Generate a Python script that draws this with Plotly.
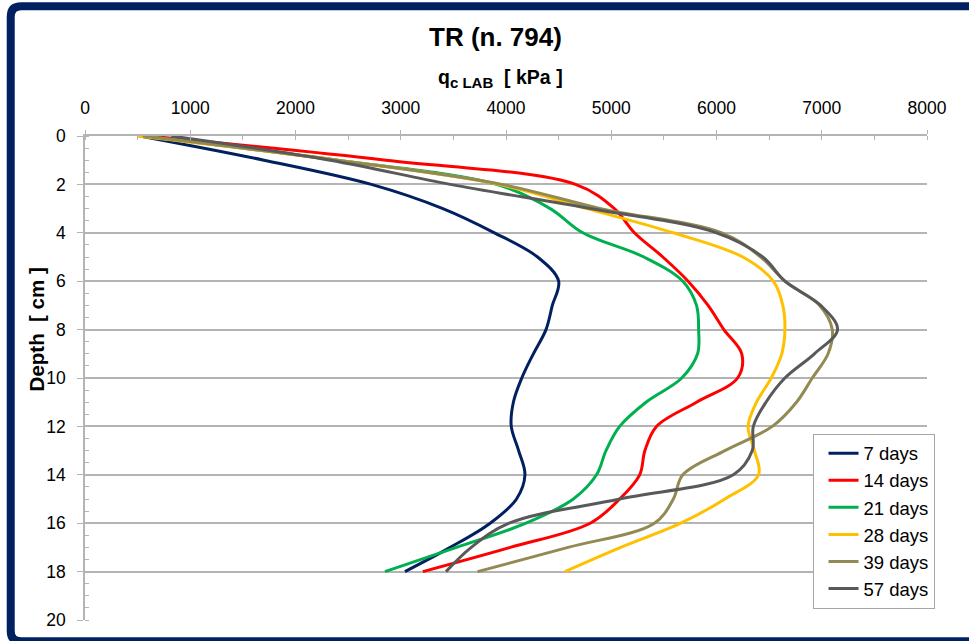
import plotly.graph_objects as go

# ---- data ----
depth = [0, 1, 2, 3, 4, 5, 6, 7, 8, 9, 10, 11, 12, 13, 14, 15, 16, 17, 18]
qc_7 = [520, 1700, 2720, 3400, 3890, 4300, 4500, 4440, 4380, 4260, 4150, 4070, 4050, 4120, 4180, 4100, 3850, 3470, 3040]
qc_14 = [600, 2860, 4660, 5030, 5220, 5490, 5730, 5920, 6070, 6240, 6200, 5810, 5430, 5320, 5270, 5080, 4800, 4040, 3210]
qc_21 = [550, 2400, 3910, 4420, 4730, 5310, 5680, 5810, 5830, 5820, 5670, 5330, 5080, 4950, 4860, 4640, 4190, 3530, 2850]
qc_28 = [500, 2400, 3930, 4770, 5590, 6250, 6540, 6630, 6650, 6620, 6520, 6380, 6300, 6360, 6400, 6080, 5660, 5090, 4560]
qc_39 = [550, 2400, 3960, 4900, 6050, 6420, 6650, 6980, 7100, 7060, 6910, 6760, 6530, 6080, 5680, 5590, 5410, 4590, 3730]
qc_57 = [820, 2330, 3470, 4800, 6000, 6440, 6650, 6990, 7150, 6930, 6650, 6470, 6350, 6340, 6160, 5080, 4030, 3670, 3430]

series_names = ["7 days", "14 days", "21 days", "28 days", "39 days", "57 days"]
series_values = [qc_7, qc_14, qc_21, qc_28, qc_39, qc_57]
series_colors = ["#002060", "#FF0000", "#00B050", "#FFC000", "#938953", "#595959"]

x_ticks = [0, 1000, 2000, 3000, 4000, 5000, 6000, 7000, 8000]
y_ticks = [0, 2, 4, 6, 8, 10, 12, 14, 16, 18, 20]

# ---- layout geometry ----
W, H = 969, 641
L, R, T, B = 85.3, 927.5, 136.3, 620.3


def px(x):
    return (x - L) / (R - L)


def py(y):
    return (B - y) / (B - T)


FONT = "Liberation Sans, Arial, sans-serif"
GRID = "#B4B4B4"
BORDER = "#002060"

fig = go.Figure()
for name, vals, col in zip(series_names, series_values, series_colors):
    fig.add_trace(go.Scatter(
        x=vals, y=depth, name=name, mode="lines",
        line=dict(color=col, width=3, shape="spline", smoothing=1.0),
    ))

fig.update_layout(
    width=W, height=H,
    margin=dict(l=L, r=W - R, t=T, b=H - B, pad=0),
    paper_bgcolor="white", plot_bgcolor="white",
    font=dict(family=FONT, color="#000000", size=17),
    showlegend=True,
    legend=dict(
        x=px(813), y=py(434), xanchor="left", yanchor="top",
        bordercolor="#A6A6A6", borderwidth=1, bgcolor="white",
        font=dict(family=FONT, size=18.5, color="#000000"),
        itemwidth=30, tracegroupgap=0, indentation=10,
        entrywidth=127, entrywidthmode="pixels",
    ),
    xaxis=dict(
        side="top", range=[0, 8000], tickvals=x_ticks,
        ticktext=[str(v) for v in x_ticks],
        showgrid=False, zeroline=False,
        showline=True, linecolor=GRID, linewidth=1.5,
        ticks="outside", ticklen=4, tickcolor=GRID, tickwidth=1.3,
        ticklabelstandoff=9,
        tickfont=dict(family=FONT, size=17.5, color="#000000"),
        minor=dict(dtick=500, ticks="inside", ticklen=4, tickcolor=GRID, tickwidth=1.3, showgrid=False),
    ),
    yaxis=dict(
        range=[20, 0], tickvals=y_ticks,
        ticktext=[str(v) for v in y_ticks],
        showgrid=True, gridcolor=GRID, gridwidth=1.5, zeroline=False,
        showline=True, linecolor=GRID, linewidth=1.5,
        ticks="outside", ticklen=6, tickcolor=GRID, tickwidth=1.3,
        ticklabelstandoff=8,
        tickfont=dict(family=FONT, size=17.5, color="#000000"),
        minor=dict(dtick=0.5, ticks="inside", ticklen=4, tickcolor=GRID, tickwidth=1.3, showgrid=False),
    ),
)

# titles
fig.add_annotation(
    text="<b>TR (n. 794)</b>", xref="paper", yref="paper",
    x=px(496), y=py(37), xanchor="center", yanchor="middle",
    showarrow=False, font=dict(family=FONT, size=26, color="#000000"),
)
fig.add_annotation(
    text="<b>q<sub><span style=\"font-size:15px\">c LAB</span></sub>  [ kPa ]</b>",
    xref="paper", yref="paper",
    x=px(501), y=py(79), xanchor="center", yanchor="middle",
    showarrow=False, font=dict(family=FONT, size=19.5, color="#000000"),
)
fig.add_annotation(
    text="<b>Depth  [ cm ]</b>", xref="paper", yref="paper",
    x=px(37), y=py(330), xanchor="center", yanchor="middle", textangle=-90,
    showarrow=False, font=dict(family=FONT, size=20.5, color="#000000"),
)

# frame around the chart (dark navy, rounded top-left corner)
pts = [
    ("M", 1000, 641.5), ("L", 21, 641.5), ("Q", 11, 641.5, 11, 631),
    ("L", 11, 17), ("Q", 11, 6.5, 21.5, 6.5), ("L", 1000, 6.5),
]
path = ""
for p in pts:
    cmd = p[0]
    coords = p[1:]
    parts = []
    for i in range(0, len(coords), 2):
        parts.append(f"{px(coords[i]):.5f},{py(coords[i + 1]):.5f}")
    path += cmd + " " + " ".join(parts) + " "
fig.add_shape(type="path", path=path.strip(), xref="paper", yref="paper",
              line=dict(color=BORDER, width=8), layer="above")

fig.write_html("out.html")
